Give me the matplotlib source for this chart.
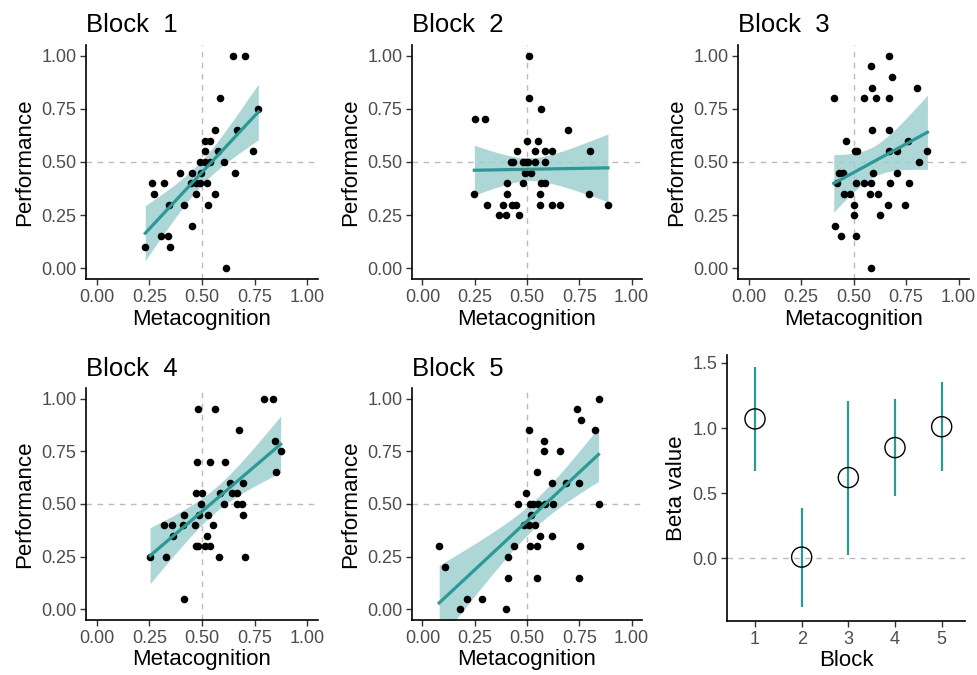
import matplotlib
matplotlib.use("Agg")
import matplotlib.pyplot as plt
import numpy as np

plt.rcParams["font.family"] = ["Liberation Sans", "DejaVu Sans"]

TEAL = "#2A9A97"
BAND = "#9FCFD0"
GREY_TXT = "#4D4D4D"

# --- data (metacognition, performance) ---
b1_x = [0.648, 0.704, 0.584, 0.767, 0.563, 0.664, 0.513, 0.536, 0.513, 0.576, 0.743,
        0.489, 0.513, 0.536, 0.603, 0.394, 0.454, 0.494, 0.658, 0.265, 0.321, 0.449,
        0.473, 0.489, 0.525, 0.272, 0.473, 0.560, 0.342, 0.415, 0.530, 0.454, 0.304,
        0.339, 0.231, 0.348, 0.614]
b1_y = [1.00, 1.00, 0.80, 0.75, 0.65, 0.65, 0.60, 0.60, 0.55, 0.55, 0.55,
        0.50, 0.50, 0.50, 0.50, 0.45, 0.45, 0.45, 0.45, 0.40, 0.40, 0.40,
        0.40, 0.40, 0.40, 0.35, 0.35, 0.35, 0.30, 0.30, 0.30, 0.20, 0.15,
        0.15, 0.10, 0.10, 0.00]

b2_x = [0.511, 0.511, 0.568, 0.252, 0.300, 0.698, 0.498, 0.551, 0.451, 0.540, 0.587,
        0.621, 0.800, 0.424, 0.435, 0.479, 0.495, 0.503, 0.540, 0.584, 0.492, 0.521,
        0.403, 0.479, 0.568, 0.587, 0.248, 0.403, 0.562, 0.795, 0.311, 0.383, 0.429,
        0.446, 0.563, 0.619, 0.659, 0.887, 0.368, 0.400, 0.462]
b2_y = [1.00, 0.80, 0.75, 0.70, 0.70, 0.65, 0.60, 0.60, 0.55, 0.55, 0.55,
        0.55, 0.55, 0.50, 0.50, 0.50, 0.50, 0.50, 0.50, 0.50, 0.45, 0.45,
        0.40, 0.40, 0.40, 0.40, 0.35, 0.35, 0.35, 0.35, 0.30, 0.30, 0.30,
        0.30, 0.30, 0.30, 0.30, 0.30, 0.25, 0.25, 0.25]

b3_x = [0.671, 0.581, 0.682, 0.587, 0.803, 0.406, 0.551, 0.606, 0.671, 0.586, 0.668,
        0.463, 0.760, 0.505, 0.517, 0.668, 0.706, 0.852, 0.813, 0.432, 0.449, 0.595,
        0.708, 0.422, 0.511, 0.548, 0.584, 0.675, 0.765, 0.457, 0.481, 0.578, 0.617,
        0.500, 0.662, 0.744, 0.500, 0.627, 0.413, 0.441, 0.511, 0.581]
b3_y = [1.00, 0.95, 0.90, 0.85, 0.85, 0.80, 0.80, 0.80, 0.80, 0.65, 0.65,
        0.60, 0.60, 0.55, 0.55, 0.55, 0.55, 0.55, 0.50, 0.45, 0.45, 0.45,
        0.45, 0.40, 0.40, 0.40, 0.40, 0.40, 0.40, 0.35, 0.35, 0.35, 0.35,
        0.30, 0.30, 0.30, 0.25, 0.25, 0.20, 0.15, 0.15, 0.00]

b4_x = [0.793, 0.839, 0.483, 0.564, 0.674, 0.846, 0.873, 0.851, 0.476, 0.539, 0.608,
        0.632, 0.693, 0.473, 0.502, 0.586, 0.641, 0.665, 0.494, 0.605, 0.665, 0.690,
        0.414, 0.486, 0.530, 0.696, 0.320, 0.357, 0.411, 0.465, 0.552, 0.363, 0.522,
        0.473, 0.483, 0.513, 0.539, 0.254, 0.329, 0.580, 0.705, 0.414]
b4_y = [1.00, 1.00, 0.95, 0.95, 0.85, 0.80, 0.75, 0.65, 0.70, 0.70, 0.70,
        0.60, 0.60, 0.55, 0.55, 0.55, 0.55, 0.55, 0.50, 0.50, 0.50, 0.50,
        0.45, 0.45, 0.45, 0.45, 0.40, 0.40, 0.40, 0.40, 0.40, 0.35, 0.35,
        0.30, 0.30, 0.30, 0.30, 0.25, 0.25, 0.25, 0.25, 0.05]

b5_x = [0.842, 0.739, 0.757, 0.511, 0.823, 0.583, 0.580, 0.659, 0.546, 0.621, 0.687,
        0.747, 0.497, 0.457, 0.513, 0.531, 0.552, 0.588, 0.626, 0.842, 0.520, 0.487,
        0.511, 0.538, 0.561, 0.620, 0.080, 0.439, 0.514, 0.546, 0.755, 0.407, 0.106,
        0.409, 0.546, 0.747, 0.213, 0.284, 0.180, 0.398]
b5_y = [1.00, 0.95, 0.90, 0.85, 0.85, 0.80, 0.75, 0.75, 0.65, 0.60, 0.60,
        0.60, 0.55, 0.50, 0.50, 0.50, 0.50, 0.50, 0.50, 0.50, 0.45, 0.40,
        0.40, 0.40, 0.35, 0.35, 0.30, 0.30, 0.30, 0.30, 0.30, 0.25, 0.20,
        0.15, 0.15, 0.15, 0.05, 0.05, 0.00, 0.00]

blocks = [1, 2, 3, 4, 5]
beta = [1.07, 0.01, 0.62, 0.85, 1.01]
beta_lo = [0.67, -0.37, 0.03, 0.48, 0.67]
beta_hi = [1.47, 0.39, 1.21, 1.22, 1.35]

W, H = 977, 675
fig = plt.figure(figsize=(W / 100, H / 100), dpi=100)


def add_ax(l, t, r, b):
    return fig.add_axes([l / W, 1 - b / H, (r - l) / W, (b - t) / H])


def style(ax):
    for s in ["top", "right"]:
        ax.spines[s].set_visible(False)
    for s in ["left", "bottom"]:
        ax.spines[s].set_linewidth(1.2)
        ax.spines[s].set_color("black")
    ax.tick_params(labelsize=13, labelcolor=GREY_TXT, length=4, width=1, color="#333333", pad=3)


def scatter_panel(ax, x, y, title):
    x = np.asarray(x)
    y = np.asarray(y)
    ax.axhline(0.5, color="#BBBBBB", ls=(0, (4, 4)), lw=1, zorder=0)
    ax.axvline(0.5, color="#BBBBBB", ls=(0, (4, 4)), lw=1, zorder=0)
    # linear fit with 95% confidence band
    n = len(x)
    slope, icpt = np.polyfit(x, y, 1)
    resid = y - (icpt + slope * x)
    s = np.sqrt(np.sum(resid ** 2) / (n - 2))
    xs = np.linspace(x.min(), x.max(), 100)
    se = s * np.sqrt(1 / n + (xs - x.mean()) ** 2 / np.sum((x - x.mean()) ** 2))
    fit = icpt + slope * xs
    ax.fill_between(xs, fit - 2.02 * se, fit + 2.02 * se, color=BAND, alpha=0.85, lw=0, zorder=1)
    ax.scatter(x, y, s=30, color="black", zorder=2, lw=0)
    ax.plot(xs, fit, color=TEAL, lw=2.3, zorder=3)
    ax.set_xlim(-0.05, 1.05)
    ax.set_ylim(-0.05, 1.05)
    ticks = [0, 0.25, 0.5, 0.75, 1.0]
    ax.set_xticks(ticks, ["0.00", "0.25", "0.50", "0.75", "1.00"])
    ax.set_yticks(ticks, ["0.00", "0.25", "0.50", "0.75", "1.00"])
    ax.set_xlabel("Metacognition", fontsize=16, labelpad=2)
    ax.set_ylabel("Performance", fontsize=16, labelpad=4)
    ax.set_title(title, loc="left", fontsize=18.5, pad=9)
    style(ax)


boxes = [(86, 45, 318, 279), (412, 45, 642, 279), (738, 45, 969, 279),
         (86, 388, 318, 620), (412, 388, 642, 620)]
data = [(b1_x, b1_y), (b2_x, b2_y), (b3_x, b3_y), (b4_x, b4_y), (b5_x, b5_y)]
for i, (box, (bx, by)) in enumerate(zip(boxes, data)):
    scatter_panel(add_ax(*box), bx, by, f"Block  {i + 1}")

ax6 = add_ax(727, 355, 965, 621)
ax6.axhline(0, color="#BBBBBB", ls=(0, (4, 4)), lw=1, zorder=0)
ax6.vlines(blocks, beta_lo, beta_hi, color=TEAL, lw=1.6, zorder=1)
ax6.scatter(blocks, beta, s=210, facecolor="none", edgecolor="black", lw=1, zorder=2)
ax6.set_xlim(0.4, 5.5)
ax6.set_ylim(-0.48, 1.56)
ax6.set_xticks(blocks)
ax6.set_yticks([0, 0.5, 1.0, 1.5], ["0.0", "0.5", "1.0", "1.5"])
ax6.set_xlabel("Block", fontsize=16, labelpad=2)
ax6.set_ylabel("Beta value", fontsize=16, labelpad=4)
style(ax6)

fig.savefig("out.png", dpi=100, facecolor="white")
